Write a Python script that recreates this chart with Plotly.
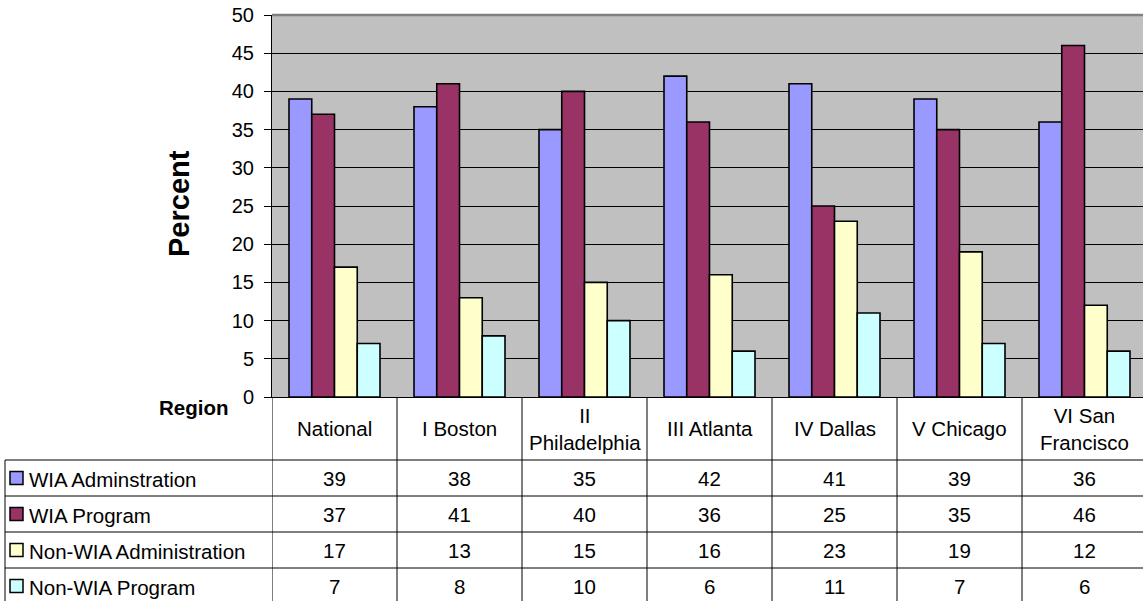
import plotly.graph_objects as go

regions = ["National", "I Boston", "II<br>Philadelphia", "III Atlanta",
           "IV Dallas", "V Chicago", "VI San<br>Francisco"]
series_names = ["WIA Adminstration", "WIA Program",
                "Non-WIA Administration", "Non-WIA Program"]
wia_admin = [39, 38, 35, 42, 41, 39, 36]
wia_program = [37, 41, 40, 36, 25, 35, 46]
non_wia_admin = [17, 13, 15, 16, 23, 19, 12]
non_wia_program = [7, 8, 10, 6, 11, 7, 6]
colors = ["#9999FF", "#993366", "#FFFFCC", "#CCFFFF"]
series_values = [wia_admin, wia_program, non_wia_admin, non_wia_program]
y_ticks = list(range(0, 51, 5))

W, H = 1143, 601
L, T, B = 272, 15, 397  # plot area edges in px
PW, PH = W - L, B - T
FONT = "Arial, Liberation Sans, sans-serif"
TS = 20.5


def px(x):
    return (x - L) / PW


def py(y):
    return (B - y) / PH


xs = list(range(len(regions)))
fig = go.Figure()
for name, vals, col in zip(series_names, series_values, colors):
    fig.add_trace(go.Bar(x=xs, y=vals, name=name, marker_color=col,
                         marker_line_color="black", marker_line_width=1.6))

shapes = []
annotations = []

# table horizontal lines
for yy in [460, 496, 532, 568]:
    shapes.append(dict(type="line", xref="paper", yref="paper",
                       x0=px(5), x1=1, y0=py(yy), y1=py(yy),
                       line=dict(color="black", width=1)))
# left border of table
shapes.append(dict(type="line", xref="paper", yref="paper",
                   x0=px(5), x1=px(5), y0=py(460), y1=py(601),
                   line=dict(color="black", width=1)))
# category column boundaries
for k in range(len(regions) + 1):
    shapes.append(dict(type="line", xref="x", yref="paper",
                       x0=k - 0.5, x1=k - 0.5, y0=0, y1=py(601),
                       line=dict(color="black", width=1)))
# plot area top border
shapes.append(dict(type="line", xref="paper", yref="paper",
                   x0=0, x1=1, y0=1, y1=1,
                   line=dict(color="#808080", width=2.5)))

# header labels
for i, r in enumerate(regions):
    annotations.append(dict(x=i, y=py(428.5), xref="x", yref="paper",
                            text=r, showarrow=False, xanchor="center",
                            yanchor="middle",
                            font=dict(family=FONT, size=TS, color="black")))

row_centers = [478, 514, 550, 586]
for rc, name, vals, col in zip(row_centers, series_names, series_values, colors):
    # legend key
    shapes.append(dict(type="rect", xref="paper", yref="paper",
                       x0=px(10), x1=px(23), y0=py(rc - 6.5), y1=py(rc + 6.5),
                       fillcolor=col, line=dict(color="black", width=1.5)))
    annotations.append(dict(x=px(27), y=py(rc + 1), xref="paper", yref="paper",
                            text=name, showarrow=False, xanchor="left",
                            yanchor="middle",
                            font=dict(family=FONT, size=TS, color="black")))
    for i, v in enumerate(vals):
        annotations.append(dict(x=i, y=py(rc), xref="x", yref="paper",
                                text=str(v), showarrow=False,
                                xanchor="center", yanchor="middle",
                                font=dict(family=FONT, size=TS, color="black")))

annotations.append(dict(x=px(230), y=py(407), xref="paper", yref="paper",
                        text="<b>Region</b>", showarrow=False,
                        xanchor="right", yanchor="middle",
                        font=dict(family=FONT, size=20.5, color="black")))
annotations.append(dict(x=px(179), y=py(204), xref="paper", yref="paper",
                        text="<b>Percent</b>", showarrow=False, textangle=-90,
                        xanchor="center", yanchor="middle",
                        font=dict(family=FONT, size=29, color="black")))

fig.update_layout(
    width=W, height=H,
    margin=dict(l=L, r=0, t=T, b=H - B, pad=0),
    paper_bgcolor="white", plot_bgcolor="#C0C0C0",
    barmode="group", bargap=0.272, bargroupgap=0,
    showlegend=False,
    shapes=shapes, annotations=annotations,
    font=dict(family=FONT, size=TS, color="black"),
)
fig.update_xaxes(range=[-0.5, 6.5 - 4 / 125], showticklabels=False,
                 showgrid=False, zeroline=False, showline=True,
                 linecolor="black", linewidth=1, ticks="")
fig.update_yaxes(range=[0, 50], tickvals=y_ticks, showgrid=True,
                 gridcolor="black", gridwidth=1, zeroline=False,
                 showline=True, linecolor="black", linewidth=1,
                 ticks="outside", ticklen=7, tickcolor="black",
                 ticklabelstandoff=6,
                 tickfont=dict(family=FONT, size=20, color="black"))

fig.write_html("out.html")
